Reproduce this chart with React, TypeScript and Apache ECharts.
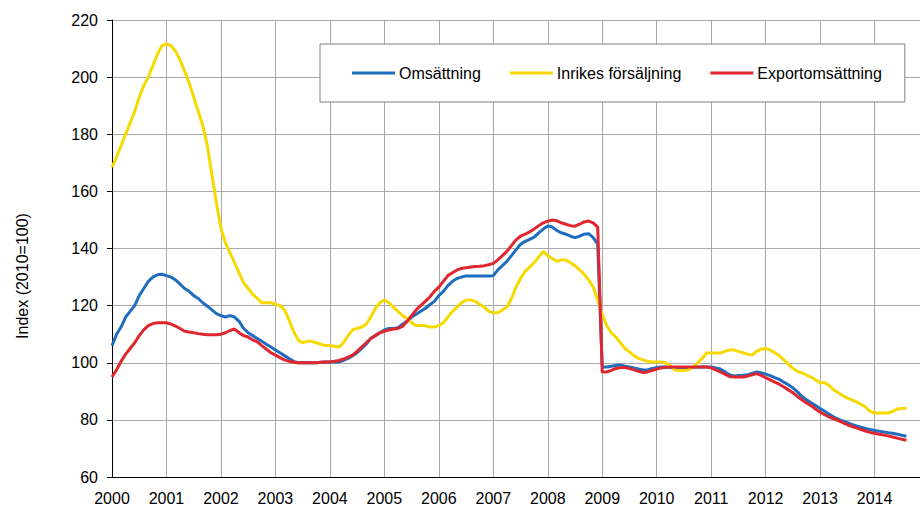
import React, { useEffect, useRef } from "react";
import * as echarts from "echarts";

// Month index 0 = January 2000
const yearLabels = ["2000","2001","2002","2003","2004","2005","2006","2007","2008","2009","2010","2011","2012","2013","2014"];
const seriesNames = ["Omsättning", "Inrikes försäljning", "Exportomsättning"];
const yAxisTitle = "Index (2010=100)";

const omsattning = [
  106, 110, 112.5, 116, 118, 120, 123.5, 126, 128.5, 130, 130.8, 131,
  130.5, 130, 129, 127.5, 126, 125, 123.5, 122.5, 121, 119.8, 118.5, 117.2,
  116.5, 116, 116.5, 116, 114.5, 112, 110.5, 109.5, 108.5, 107.5, 106.5, 105.5,
  104.5, 103.5, 102.5, 101.5, 100.5, 100, 100, 100, 100, 100, 100.2, 100.3,
  100.3, 100.3, 100.3, 100.8, 101.5, 102.5, 103.5, 105, 106.5, 108.5, 109.5, 110.5,
  111.5, 112, 112, 112.3, 113.5, 114.5, 116, 117, 118, 119, 120.3, 121.5,
  123.5, 125, 127, 128.5, 129.5, 130, 130.4, 130.4, 130.4, 130.4, 130.4, 130.4,
  130.5, 132.5, 134, 135.5, 137.5, 139.5, 141.5, 142.5, 143.2, 144, 145.5, 146.8,
  147.9, 147.5, 146.3, 145.5, 145, 144.3, 143.8, 144.3, 145, 145.2, 143.8, 141.5,
  98.5, 98.5, 98.8, 99, 99.2, 98.8, 98.5, 98.2, 97.8, 97.5, 97.5, 98,
  98.3, 98.5, 98.5, 98.3, 98, 97.8, 97.8, 98, 98.3, 98.5, 98.5, 98.5,
  98.5, 98.2, 97.8, 96.8, 95.8, 95.4, 95.5, 95.6, 95.8, 96.3, 96.8, 96.5,
  96, 95.5, 94.8, 94.2, 93.2, 92.3, 91.2, 89.8, 88.2, 87, 86, 85,
  84, 83, 82, 81, 80.3, 79.6, 79, 78.4, 77.9, 77.4, 77, 76.6,
  76.3, 76, 75.8, 75.5, 75.3, 75, 74.6, 74.3,
];

const inrikes = [
  168.5, 172, 176, 180, 184, 188, 193, 197, 200, 204, 208, 211,
  211.6, 211, 209, 206, 202, 198, 193, 188, 183, 176, 166, 156,
  147, 142, 138.5, 135, 131.5, 128, 126, 124, 122.5, 121, 121, 121,
  120.5, 120, 118.5, 115, 111, 108, 107, 107.5, 107.5, 107, 106.5, 106,
  106, 105.8, 105.5, 107, 109.5, 111.5, 112, 112.5, 113.5, 116, 119, 121,
  122, 121, 119.5, 118, 116.5, 115.5, 114, 113, 113, 113, 112.5, 112.5,
  113, 114, 116, 118, 119.5, 121, 122, 122, 121.5, 120.5, 119.5, 118,
  117.5, 117.5, 118.5, 119.5, 122.5, 126.5, 129.5, 132, 133.5, 135, 137, 139,
  137.5, 136.5, 135.5, 136, 136, 135, 134, 132.5, 131, 129, 126.5, 122,
  117, 113, 110.5, 109, 107, 105, 103.8, 102.5, 101.5, 101, 100.5, 100.3,
  100.3, 100.3, 100, 99, 97.5, 97.3, 97.3, 97.5, 98.5, 100, 101.5, 103.4,
  103.4, 103.4, 103.4, 104, 104.5, 104.5, 104, 103.5, 103, 102.7, 104, 104.8,
  105, 104.5, 103.5, 102.5, 101, 99.5, 98, 97, 96.5, 95.7, 95, 94,
  93, 93, 92, 90.5, 89.5, 88.5, 87.6, 87, 86.3, 85.5, 84.5, 83,
  82.4, 82.4, 82.4, 82.4, 83, 83.8, 84, 84.1,
];

const export_ = [
  95, 97.5, 100.5, 103, 105, 107, 109.5, 111.5, 113, 113.7, 114, 114,
  114, 113.5, 112.8, 112, 111, 110.8, 110.5, 110.2, 110, 109.8, 109.8, 109.8,
  110, 110.5, 111.3, 111.8, 110.5, 109.5, 109, 108, 107.3, 106, 104.8, 103.5,
  102.7, 101.8, 101, 100.5, 100.2, 100, 100, 100, 100, 100, 100.2, 100.3,
  100.3, 100.5, 100.8, 101.3, 102, 102.7, 104, 105.5, 107, 108.5, 109.5, 110.5,
  111, 111.5, 111.8, 112, 112.7, 114.5, 116.5, 118.5, 120, 121.5, 123, 125,
  126.5, 128.5, 130.5, 131.5, 132.5, 133, 133.3, 133.5, 133.7, 133.8, 134, 134.3,
  134.8, 136, 137.5, 139, 141, 143, 144.3, 145, 145.8, 146.8, 148, 149,
  149.6, 150, 149.7, 149, 148.5, 148, 147.8, 148.5, 149.3, 149.6, 149, 147.5,
  96.8, 96.8, 97.3, 98, 98.3, 98.3, 98, 97.5, 97, 96.6, 96.8, 97.3,
  97.8, 98.2, 98.4, 98.5, 98.5, 98.5, 98.5, 98.5, 98.5, 98.5, 98.5, 98.5,
  98.2, 97.5, 96.8, 96, 95.2, 95, 95, 95, 95.3, 95.8, 96.2, 95.6,
  94.8, 94, 93.2, 92.5, 91.5, 90.5, 89.5, 88.2, 87, 85.9, 85, 83.8,
  82.7, 81.8, 81, 80.4, 79.7, 79, 78.3, 77.7, 77.2, 76.6, 76.1, 75.6,
  75.3, 75, 74.7, 74.4, 74, 73.6, 73.2, 72.9,
];

const colors = ["#1f6dbf", "#f7d900", "#e0262e"];
const FONT = "'Liberation Sans', Arial, sans-serif";

export default function App() {
  const ref = useRef<HTMLDivElement>(null);
  useEffect(() => {
    if (!ref.current) return;
    const chart = echarts.init(ref.current, undefined, { renderer: "svg" });
    const toPairs = (arr: number[]) => arr.map((v, i) => [i, v]);
    const all = [omsattning, inrikes, export_];
    chart.setOption({
      animation: false,
      backgroundColor: "#ffffff",
      textStyle: { fontFamily: FONT },
      grid: { left: 112, top: 20, right: 0, bottom: 39, containLabel: false },
      graphic: [
        {
          type: "text",
          x: 22,
          y: 276,
          rotation: Math.PI / 2,
          style: {
            text: yAxisTitle,
            fill: "#000",
            font: `16px ${FONT}`,
            textAlign: "center",
            textVerticalAlign: "middle",
          },
        },
      ],
      legend: {
        left: 320,
        top: 44,
        data: seriesNames,
        icon: "rect",
        itemWidth: 43,
        itemHeight: 3,
        itemGap: 29,
        padding: [21, 23, 21, 32],
        backgroundColor: "#ffffff",
        borderColor: "#7f7f7f",
        borderWidth: 1,
        textStyle: { fontFamily: FONT, fontSize: 16, color: "#000", padding: [0, 0, 0, -1] },
      },
      xAxis: {
        type: "value",
        min: 0,
        max: 178,
        interval: 12,
        axisLine: { show: true, lineStyle: { color: "#000", width: 1 } },
        axisTick: { show: false },
        splitLine: { show: true, lineStyle: { color: "#a8a8a8", width: 1 } },
        axisLabel: {
          margin: 13,
          fontSize: 16,
          color: "#000",
          fontFamily: FONT,
          showMaxLabel: false,
          formatter: (v: number) => (v % 12 === 0 ? yearLabels[v / 12] ?? "" : ""),
        },
      },
      yAxis: {
        type: "value",
        min: 60,
        max: 220,
        interval: 20,
        axisLine: { show: true, lineStyle: { color: "#000", width: 1 } },
        axisTick: { show: true, length: 5, lineStyle: { color: "#000" } },
        splitLine: { show: true, lineStyle: { color: "#a8a8a8", width: 1 } },
        axisLabel: { margin: 14, fontSize: 16, color: "#000", fontFamily: FONT },
      },
      series: all.map((arr, i) => ({
        name: seriesNames[i],
        type: "line",
        data: toPairs(arr),
        showSymbol: false,
        symbol: "none",
        color: colors[i],
        lineStyle: { color: colors[i], width: 3 },
      })),
    });
    return () => chart.dispose();
  }, []);
  return (
    <div
      ref={ref}
      style={{ position: "fixed", left: 0, top: 0, width: 920, height: 516 }}
    />
  );
}
